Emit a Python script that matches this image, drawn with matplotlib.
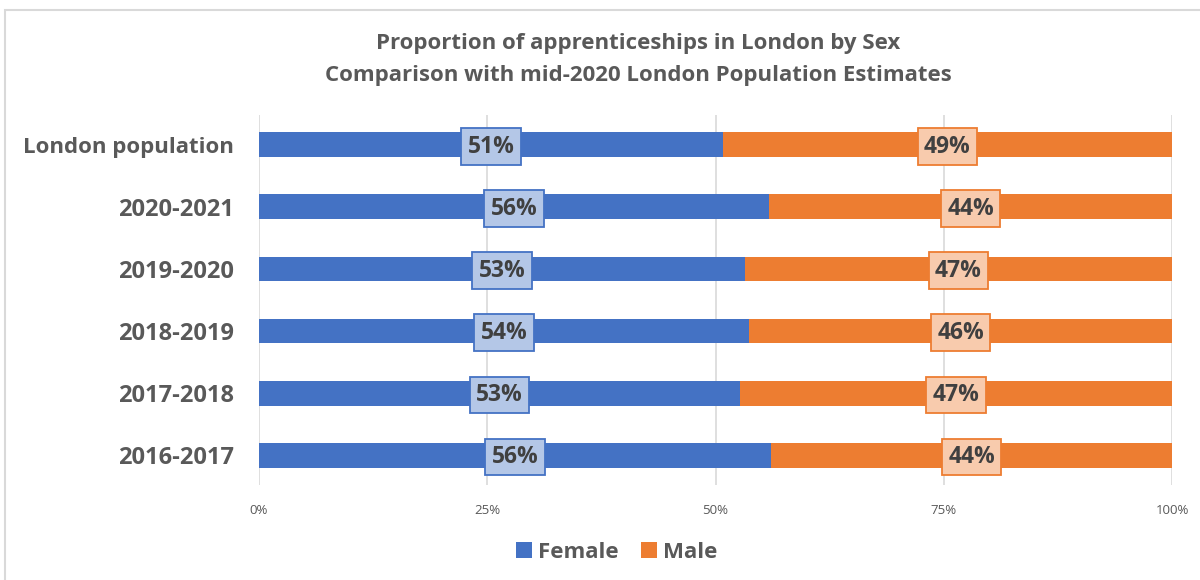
import matplotlib
matplotlib.use("Agg")
import matplotlib.pyplot as plt
from matplotlib.patches import Rectangle

categories = ["London population", "2020-2021", "2019-2020", "2018-2019", "2017-2018", "2016-2017"]
female = [50.8, 55.9, 53.2, 53.7, 52.7, 56.1]
male = [100 - f for f in female]
female_labels = ["51%", "56%", "53%", "54%", "53%", "56%"]
male_labels = ["49%", "44%", "47%", "46%", "47%", "44%"]
xticks = [0, 25, 50, 75, 100]
xtick_labels = ["0%", "25%", "50%", "75%", "100%"]

plt.rcParams['font.family'] = ['Open Sans', 'DejaVu Sans']

fig = plt.figure(figsize=(12, 5.8), dpi=100)
ax = fig.add_axes([259/1200, 1-485/580, (1172-259)/1200, (485-115)/580])

blue = "#4472C4"
orange = "#ED7D31"
n = len(categories)
ys = [n - 1 - i for i in range(n)]

ax.barh(ys, female, height=0.4, color=blue, label="Female", zorder=2)
ax.barh(ys, male, left=female, height=0.4, color=orange, label="Male", zorder=2)

for y, f, m, fl, ml in zip(ys, female, male, female_labels, male_labels):
    ax.text(f/2, y - 0.03, fl, ha="center", va="center", fontsize=16.5, fontweight="bold",
            color="#404040", zorder=4,
            bbox=dict(boxstyle="square,pad=0.28", fc="#B4C7E7", ec=blue, lw=1.3))
    ax.text(f + m/2, y - 0.03, ml, ha="center", va="center", fontsize=16.5, fontweight="bold",
            color="#404040", zorder=4,
            bbox=dict(boxstyle="square,pad=0.28", fc="#F8CBAD", ec=orange, lw=1.3))

ax.set_xlim(0, 100)
ax.set_ylim(-0.48, n - 1 + 0.48)
ax.set_yticks(ys)
ax.set_yticklabels(categories, fontsize=16, fontweight="bold", color="#595959")
for lbl in ax.get_yticklabels()[1:]:
    lbl.set_fontsize(17)
ax.set_xticks(xticks)
ax.set_xticklabels(xtick_labels, fontsize=9.5, color="#595959")
ax.tick_params(axis="both", length=0)
ax.tick_params(axis="y", pad=18)
ax.tick_params(axis="x", pad=14)
for s in ax.spines.values():
    s.set_visible(False)
ax.xaxis.grid(True, color="#D9D9D9", lw=1.2, zorder=0)
ax.set_axisbelow(True)

fig.text(638/1200, 1-44/580, "Proportion of apprenticeships in London by Sex",
         ha="center", va="center", fontsize=16, fontweight="bold", color="#595959")
fig.text(638/1200, 1-75/580, "Comparison with mid-2020 London Population Estimates",
         ha="center", va="center", fontsize=16, fontweight="bold", color="#595959")

leg = fig.legend(loc="center", bbox_to_anchor=(617/1200, 1-552/580), ncol=2, frameon=False,
                 prop={"size": 16, "weight": "bold"}, handlelength=0.7, handleheight=0.7,
                 handletextpad=0.3, columnspacing=1.0)
for t in leg.get_texts():
    t.set_color("#595959")

fig.patches.append(Rectangle((5/1200, -0.2), 1.2, 1.2 - 10/580, transform=fig.transFigure,
                             fill=False, ec="#D9D9D9", lw=1.5))

fig.savefig("out.png", dpi=100)
